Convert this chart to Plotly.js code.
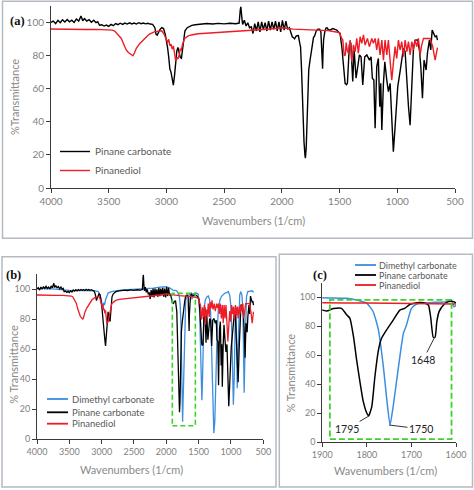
<!DOCTYPE html>
<html>
<head>
<meta charset="utf-8">
<script src="https://cdn.plot.ly/plotly-3.0.1.min.js"></script>
<style>
html,body{margin:0;padding:0;background:#ffffff;}
#chart{width:474px;height:490px;}
</style>
</head>
<body>
<div id="chart"></div>
<script>
// ---------- DATA ----------
const seriesNames = ['Dimethyl carbonate', 'Pinane carbonate', 'Pinanediol'];

// Pinane carbonate: wavenumber (1/cm) and %T
const pcWave = [4000,3980,3960,3940,3920,3900,3880,3860,3840,3820,3800,3780,3760,3740,3725,3710,3690,3670,3650,3630,3610,3595,3580,3560,3540,3520,3500,3480,3460,3440,3420,3400,3380,3360,3340,3320,3300,3280,3260,3240,3220,3200,3180,3160,3140,3120,3100,3090,3080,3070,3055,3040,3025,3010,3000,2990,2980,2970,2960,2950,2940,2930,2920,2910,2900,2890,2880,2870,2860,2850,2840,2820,2800,2780,2750,2700,2650,2600,2550,2500,2450,2400,2370,2360,2355,2348,2340,2325,2310,2295,2280,2265,2250,2235,2220,2205,2190,2175,2160,2145,2130,2115,2100,2085,2070,2055,2040,2025,2010,1995,1980,1965,1950,1935,1920,1910,1900,1890,1875,1857,1845,1838,1830,1823,1815,1808,1800,1796,1789,1782,1774,1767,1756,1741,1726,1715,1703,1688,1673,1662,1657,1651,1647,1643,1638,1628,1617,1605,1600,1580,1560,1540,1524,1505,1496,1480,1467,1452,1440,1432,1415,1403,1386,1374,1357,1345,1328,1314,1299,1282,1264,1241,1227,1216,1203,1192,1178,1164,1152,1143,1134,1120,1108,1091,1077,1062,1048,1034,1019,1010,996,976,961,947,932,917,903,889,874,860,846,826,808,796,782,768,750,739,722,710,698,687,672,660,652];
const pcT = [100.2,101,99.5,101.5,100,101.8,100.5,102,100.6,101.5,100.2,102.2,101,104,101.2,102.5,101,101.8,100.3,101.5,100,100.6,98.5,98.8,98,98.6,97.8,99,98.2,99.5,98.8,99.7,99,99.8,99.2,99.9,99.3,99.8,99.2,100,99.4,99.8,99.3,99.7,99.2,99,97,93,92.5,94,96,97,96.5,93,89.5,85,79,72,70,66,62.3,68,77,83,85,82,79,78.5,84,90,95,97,97.8,98.4,98.8,99.2,99.5,99.2,99.6,99.3,99.7,99.4,99.8,108,109.7,104,99,101.5,98,100,97,97.5,93.5,99.5,95,100.5,94.5,100.5,96,100,95,101,95.5,100.5,96,101,95,100.5,94.5,101.5,95.5,101,96,97,93,91.5,91,90.3,92,92.2,87.6,85.3,72.6,56.6,40.5,27.8,19.8,18,24.4,45,63.4,71.5,77.2,84.1,91,92.2,95,96.1,96.1,94.5,86.4,72.2,72.2,83,89.9,94.5,96.8,96.8,95.9,95.5,96.5,96,95.5,94,93.5,85,73.4,63.3,62.5,63.3,86.5,88,64.4,83.5,66.4,73.4,80.5,79.4,62.3,79.4,80.5,77.4,79.4,66.4,65.3,36.1,73.4,78.4,49.2,63.3,35.1,63.3,76.4,65.3,58.3,63.3,43,22,37,47.2,61.3,70.4,78.4,84.5,82.5,61.3,49.2,38,59.3,84.5,89.5,89.6,83.5,73.4,54.3,77.4,71.4,81.5,89.5,83.5,95.5,93.5,91.5,92,89.5];

// Pinanediol
const pdWave = [4000,3900,3800,3700,3600,3500,3470,3448,3420,3391,3370,3348,3330,3310,3290,3275,3261,3230,3188,3150,3101,3060,3040,3020,3000,2990,2980,2970,2960,2950,2940,2930,2920,2910,2900,2890,2880,2871,2860,2842,2810,2784,2726,2622,2500,2400,2275,2200,2100,2000,1950,1900,1800,1700,1600,1530,1500,1485,1472,1460,1450,1443,1433,1423,1409,1402,1394,1380,1365,1351,1337,1322,1308,1293,1279,1259,1242,1221,1207,1192,1178,1164,1149,1134,1120,1106,1091,1077,1062,1048,1034,1019,1005,990,976,961,947,932,917,903,889,874,860,846,831,817,802,790,773,744,716,693,672,652];
const pdT = [96.2,96,95.8,95.9,96,95.8,95.5,95,93,90.5,87,83.5,82,81,80,82,84.5,87.5,90.5,93,94.6,95.2,95.1,93,90,88,90,86,87,84,86,81,77,79,78,80.5,84,83.5,87,90.5,92,92.6,93.3,93.8,94.3,94.6,95.1,95.6,96.2,97,96.6,96.1,95.8,95.5,95.2,94.4,94,91,89.5,80,80.5,88,83,81.5,89.5,85,76.4,86.5,82.5,90.5,81.5,91.5,87.5,92.6,86.5,90.5,85.5,90.5,87.5,90.5,83.5,90.5,80.5,89.5,77.4,89.5,80.5,89.5,73.4,65.3,75.4,85.5,78.4,89.5,83.5,88.5,79.4,89.5,82.5,88.5,80.5,88.5,83.5,89.5,85.5,90.5,80.5,86,90.5,90.5,90.5,85.5,77.4,85];

// Dimethyl carbonate
const dmcWave = [4000,3950,3900,3850,3800,3750,3700,3600,3500,3400,3300,3200,3100,3050,3030,3010,2995,2980,2965,2955,2940,2920,2900,2850,2800,2700,2600,2500,2400,2300,2200,2100,2000,1950,1900,1845,1823,1800,1786,1774,1763,1756,1748,1741,1729,1718,1711,1700,1688,1658,1621,1610,1605,1598,1580,1540,1510,1495,1485,1470,1460,1450,1440,1430,1415,1396,1370,1350,1330,1315,1300,1285,1265,1250,1235,1215,1195,1170,1143,1110,1092,1060,1041,1020,1004,990,973,963,950,940,930,920,912,903,892,880,865,850,830,815,805,796,785,775,760,740,700,670,650];
const dmcT = [100.6,100.3,100.8,100.2,100.5,100.2,100,99.6,99.3,99.2,99.4,99.3,99,98.5,96.5,94,90.5,89,91,89.5,93,96,97.5,98.5,99,99.5,99.8,100,100.2,100.5,100.8,101.5,101.7,101,99.5,99.1,97.9,95.6,90,77.2,52,31.3,11.7,24.4,52,75,80.7,92.2,95.2,96.1,96.8,97.9,93.3,94.5,97,97.5,97,93,85,60,40,26,40,70,88,93,95,95.5,93,85,65,35,4,12,40,70,87,93,95.5,97,97.5,98,98.5,96,90,75,50,23,40,70,88,85,60,34,55,85,96,98.5,96,85,60,31,55,80,95,98.5,99,99,98];

// Axis ticks
const xTicksWide = [4000,3500,3000,2500,2000,1500,1000,500];
const xTicksZoom = [1900,1800,1700,1600];
const yTicks = [0,20,40,60,80,100];

// Peak labels in panel (c)
const peakLabels = ['1795','1750','1648'];
const peakWave = [1795,1750,1648];
const peakT = [18,11.7,72.2];

// ---------- STYLE / LAYOUT ----------
const W = 474, H = 490;
const PX = x => x / W;
const PY = y => 1 - y / H;
const colors = {'Dimethyl carbonate':'#3b8ee0','Pinane carbonate':'#000000','Pinanediol':'#ee1c25'};
const FONT = 'Lato, "Open Sans", sans-serif';
const tickGray = '#7f7f7f';
const titleGray = '#8a8a8a';
const axisCol = '#3a3a3a';

const seriesData = {
  'Dimethyl carbonate': [dmcWave, dmcT],
  'Pinane carbonate': [pcWave, pcT],
  'Pinanediol': [pdWave, pdT]
};

const traces = [];
// panel (a)
['Pinane carbonate','Pinanediol'].forEach(n => {
  traces.push({type:'scatter', mode:'lines', name:n, x:seriesData[n][0], y:seriesData[n][1],
    xaxis:'x', yaxis:'y', line:{color:colors[n], width:1.4}, showlegend:true, legend:'legend', hoverinfo:'skip'});
});
// panel (b)
seriesNames.forEach(n => {
  traces.push({type:'scatter', mode:'lines', name:n, x:seriesData[n][0], y:seriesData[n][1],
    xaxis:'x2', yaxis:'y2', line:{color:colors[n], width:1.3}, showlegend:false, hoverinfo:'skip'});
});
// panel (c)
seriesNames.forEach(n => {
  traces.push({type:'scatter', mode:'lines', name:n, x:seriesData[n][0], y:seriesData[n][1],
    xaxis:'x3', yaxis:'y3', line:{color:colors[n], width:1.5, shape:'spline', smoothing:0.5}, showlegend:false, hoverinfo:'skip'});
});

function xAxis(domain, range, ticks, anchor, fs) {
  return {domain:domain, range:range, anchor:anchor, tickvals:ticks, ticktext:ticks.map(String),
    showline:true, linecolor:axisCol, linewidth:1, ticks:'outside', ticklen:4, tickcolor:axisCol,
    tickfont:{size:fs, color:tickGray, family:FONT}, showgrid:false, zeroline:false, fixedrange:true, automargin:false};
}
function yAxis(domain, anchor, fs) {
  return {domain:domain, range:[0,110], anchor:anchor, tickvals:yTicks, ticktext:yTicks.map(String),
    showline:true, linecolor:axisCol, linewidth:1, ticks:'outside', ticklen:4, tickcolor:axisCol,
    tickfont:{size:fs, color:tickGray, family:FONT}, showgrid:false, zeroline:false, fixedrange:true, automargin:false};
}

const shapes = [
  // panel frames
  {type:'rect', xref:'paper', yref:'paper', x0:PX(2.5), x1:PX(472.5), y0:PY(238.3), y1:PY(1.2), line:{color:'#b3bac2', width:1.5}},
  {type:'rect', xref:'paper', yref:'paper', x0:PX(2), x1:PX(276), y0:PY(487), y1:PY(256.7), line:{color:'#b3bac2', width:1.5}},
  {type:'rect', xref:'paper', yref:'paper', x0:PX(279.3), x1:PX(472.5), y0:PY(487), y1:PY(254.3), line:{color:'#b3bac2', width:1.5}},
  // zoom region boxes
  {type:'rect', xref:'x2', yref:'y2', x0:1907, x1:1551, y0:9, y1:97.3, line:{color:'#3fd12b', width:1.6, dash:'5px,3px'}},
  {type:'rect', xref:'x3', yref:'y3', x0:1883, x1:1610, y0:2, y1:98, line:{color:'#3fd12b', width:1.8, dash:'6px,3px'}}
];

function paperText(text, x, y, font, extra) {
  return Object.assign({text:text, x:PX(x), y:PY(y), xref:'paper', yref:'paper', showarrow:false,
    xanchor:'center', yanchor:'middle', font:font}, extra || {});
}

const serif = {family:'"Liberation Serif", serif', size:12.5, color:'#111'};
const titleFont = {family:FONT, size:11, color:titleGray};
const annotations = [
  paperText('<b>(a)</b>', 17, 21, serif),
  paperText('<b>(b)</b>', 13.5, 275, serif),
  paperText('<b>(c)</b>', 320, 275, serif),
  // axis titles
  paperText('Wavenumbers (1/cm)', 253, 220.5, titleFont),
  paperText('%Transmittance', 15, 97, titleFont, {textangle:-90}),
  paperText('Wavenumbers (1/cm)', 131.5, 469, titleFont),
  paperText('% Transmittance', 13.3, 364.5, titleFont, {textangle:-90}),
  paperText('Wavenumbers (1/cm)', 385, 470.5, titleFont),
  paperText('% Transmittance', 289.5, 373, titleFont, {textangle:-90})
];

// peak call-outs in panel (c)
const peakTextPos = [[1845, 9], [1678.6, 9], [1674, 56.6]];
peakLabels.forEach((lab, i) => {
  annotations.push({text:lab, x:peakWave[i], y:peakT[i], xref:'x3', yref:'y3',
    ax:peakTextPos[i][0], ay:peakTextPos[i][1], axref:'x3', ayref:'y3',
    showarrow:true, arrowhead:0, arrowwidth:1, arrowcolor:'#333', standoff:0,
    font:{family:FONT, size:10.5, color:'#222'}});
});

// compact legends for panels (b) and (c)
const legB = {sx0:47, sx1:68, tx:69.5, ys:[399, 412.3, 423.7], fs:9.5};
const legC = {sx0:355, sx1:376, tx:377, ys:[265, 275, 285], fs:9};
[legB, legC].forEach(L => {
  seriesNames.forEach((n, i) => {
    shapes.push({type:'line', xref:'paper', yref:'paper', x0:PX(L.sx0), x1:PX(L.sx1), y0:PY(L.ys[i]), y1:PY(L.ys[i]),
      line:{color:colors[n], width:1.8}});
    annotations.push(paperText(n, L.tx, L.ys[i], {family:FONT, size:L.fs, color:'#595959'}, {xanchor:'left'}));
  });
});

const layout = {
  width:W, height:H, margin:{l:0, r:0, t:0, b:0, autoexpand:false},
  paper_bgcolor:'#ffffff', plot_bgcolor:'rgba(0,0,0,0)',
  font:{family:FONT, color:tickGray},
  xaxis: xAxis([PX(51), PX(455)], [4000, 500], xTicksWide, 'y', 10),
  yaxis: yAxis([PY(188), PY(6.2)], 'x', 10),
  xaxis2: xAxis([PX(37), PX(263.3)], [4000, 500], xTicksWide, 'y2', 9),
  yaxis2: yAxis([PY(439.3), PY(274.3)], 'x2', 9),
  xaxis3: xAxis([PX(322.3), PX(456)], [1900, 1600], xTicksZoom, 'y3', 9),
  yaxis3: yAxis([PY(442), PY(282.5)], 'x3', 9),
  legend: {x:PX(55), y:PY(137), xanchor:'left', yanchor:'top', bgcolor:'rgba(0,0,0,0)',
    font:{family:FONT, size:10, color:'#595959'}, itemwidth:30},
  shapes: shapes,
  annotations: annotations
};

Plotly.newPlot('chart', traces, layout, {displayModeBar:false, staticPlot:true});
</script>
</body>
</html>
